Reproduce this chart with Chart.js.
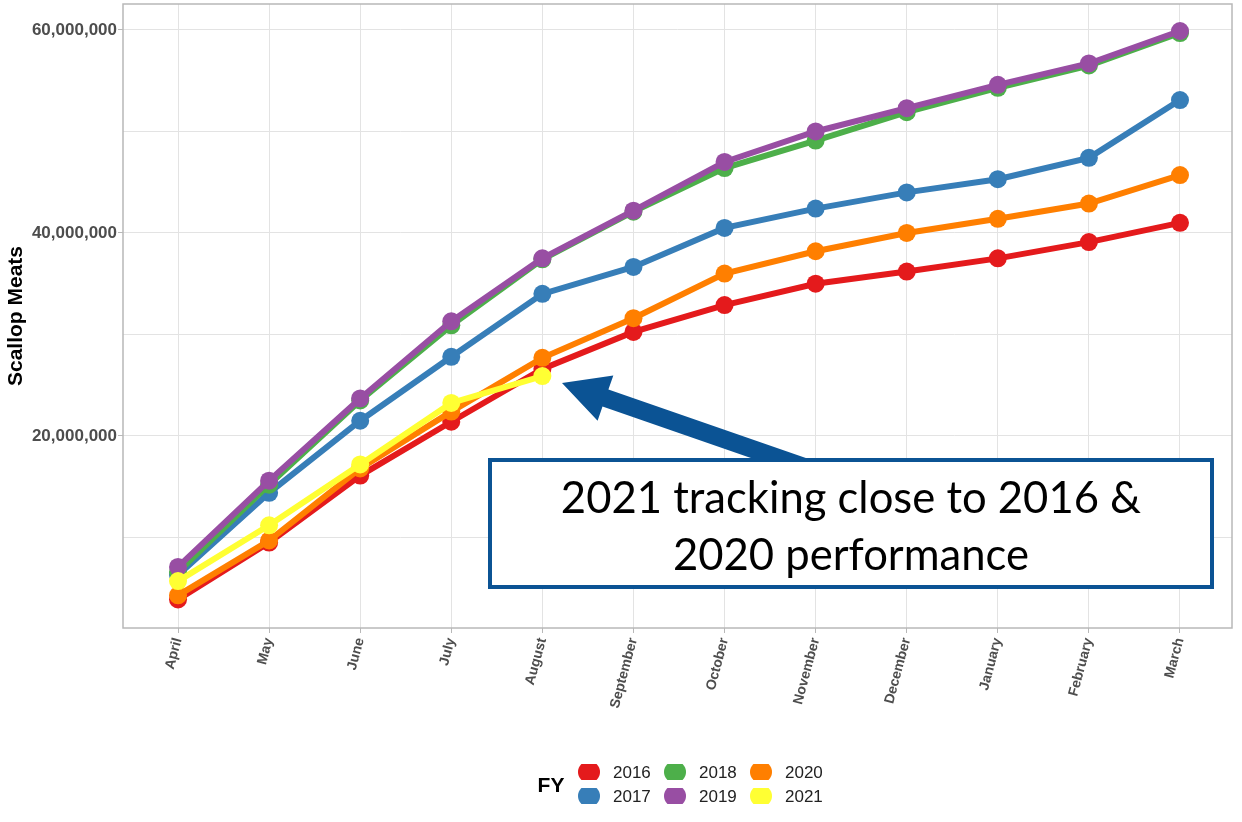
<!DOCTYPE html>
<html>
<head>
<meta charset="utf-8">
<script src="https://cdn.jsdelivr.net/npm/chart.js@4.4.0/dist/chart.umd.min.js"></script>
<style>
  body { margin: 0; background: #fff; }
</style>
</head>
<body>
<canvas id="scallopChart" width="1242" height="822"></canvas>
<script>
// months of the fiscal year (FY starts in April)
const months = ['April', 'May', 'June', 'July', 'August', 'September', 'October',
  'November', 'December', 'January', 'February', 'March'];
const fyLabels = ['2016', '2017', '2018', '2019', '2020', '2021'];

// cumulative scallop meats, lbs
const fy2016 = [3.9e6, 9.5e6, 16.1e6, 21.4e6, 26.6e6, 30.25e6, 32.9e6, 35.0e6, 36.2e6, 37.5e6, 39.1e6, 41.0e6];
const fy2017 = [6.3e6, 14.4e6, 21.5e6, 27.8e6, 34.0e6, 36.65e6, 40.5e6, 42.4e6, 44.0e6, 45.3e6, 47.4e6, 53.1e6];
const fy2018 = [6.6e6, 15.2e6, 23.5e6, 30.9e6, 37.4e6, 42.1e6, 46.4e6, 49.1e6, 51.9e6, 54.3e6, 56.5e6, 59.7e6];
const fy2019 = [7.1e6, 15.6e6, 23.7e6, 31.3e6, 37.5e6, 42.2e6, 47.0e6, 50.0e6, 52.3e6, 54.6e6, 56.7e6, 59.9e6];
const fy2020 = [4.3e6, 9.7e6, 16.8e6, 22.4e6, 27.7e6, 31.6e6, 36.0e6, 38.2e6, 40.0e6, 41.4e6, 42.9e6, 45.7e6];
const fy2021 = [5.7e6, 11.2e6, 17.2e6, 23.25e6, 25.9e6, null, null, null, null, null, null, null];

// gridlines every 10M, labels only on these
const yGrid = [10000000, 20000000, 30000000, 40000000, 50000000, 60000000];
const yTickLabels = [20000000, 40000000, 60000000];

const seriesValues = [fy2016, fy2017, fy2018, fy2019, fy2020, fy2021];
const colors = ['#E41A1C', '#377EB8', '#4DAF4A', '#984EA3', '#FF7F00', '#FFFF33'];

const datasets = seriesValues.map((vals, i) => ({
  label: fyLabels[i],
  data: vals.map((v, j) => ({ x: j, y: v })),
  borderColor: colors[i],
  backgroundColor: colors[i],
  pointBackgroundColor: colors[i],
  borderWidth: 6,
  pointRadius: 9,
  pointBorderWidth: 0,
  pointHoverRadius: 9,
  tension: 0,
  spanGaps: false,
  order: seriesValues.length - 1 - i  // later years drawn on top
}));

// frame around plot area
const frame = {
  id: 'frame',
  beforeDatasetsDraw(chart) {
    const { ctx, chartArea: a } = chart;
    ctx.save();
    ctx.strokeStyle = '#b8b8b8';
    ctx.lineWidth = 1.5;
    ctx.strokeRect(a.left, a.top, a.right - a.left, a.bottom - a.top);
    ctx.restore();
  }
};

// callout box + arrow pointing at the 2021 August point
const callout = {
  id: 'callout',
  afterDraw(chart) {
    const ctx = chart.ctx;
    const blue = '#0b5394';
    ctx.save();

    // arrow
    const tip = { x: 562, y: 383 };
    const dx = 228, dy = 79, len = Math.hypot(dx, dy);
    const ux = dx / len, uy = dy / len, nx = -uy, ny = ux;
    const headLen = 46, headW = 24, shaftW = 9, tailLen = 290;
    const bx = tip.x + ux * headLen, by = tip.y + uy * headLen;
    const tx = tip.x + ux * tailLen, ty = tip.y + uy * tailLen;
    ctx.fillStyle = blue;
    ctx.beginPath();
    ctx.moveTo(tip.x, tip.y);
    ctx.lineTo(bx + nx * headW, by + ny * headW);
    ctx.lineTo(bx + nx * shaftW, by + ny * shaftW);
    ctx.lineTo(tx + nx * shaftW, ty + ny * shaftW);
    ctx.lineTo(tx - nx * shaftW, ty - ny * shaftW);
    ctx.lineTo(bx - nx * shaftW, by - ny * shaftW);
    ctx.lineTo(bx - nx * headW, by - ny * headW);
    ctx.closePath();
    ctx.fill();

    // box
    ctx.fillStyle = '#fff';
    ctx.fillRect(490, 460, 722, 127);
    ctx.strokeStyle = blue;
    ctx.lineWidth = 4;
    ctx.strokeRect(490, 460, 722, 127);

    // text, sized so first line spans ~580px
    const line1 = '2021 tracking close to 2016 &';
    const line2 = '2020 performance';
    ctx.font = '40px Lato';
    const w = ctx.measureText(line1).width;
    const size = Math.min(46, 40 * 580 / w);
    ctx.font = size.toFixed(1) + 'px Lato';
    ctx.fillStyle = '#000';
    ctx.textAlign = 'center';
    ctx.textBaseline = 'alphabetic';
    ctx.fillText(line1, 851, 513);
    ctx.fillText(line2, 851, 570);
    ctx.restore();
  }
};

// legend: "FY" title then 3 columns x 2 rows
const fyLegend = {
  id: 'fyLegend',
  afterDraw(chart) {
    const ctx = chart.ctx;
    ctx.save();
    ctx.fillStyle = '#000';
    ctx.font = 'bold 21px "Liberation Sans", Arial, sans-serif';
    ctx.textAlign = 'center';
    ctx.textBaseline = 'middle';
    ctx.fillText('FY', 551, 786);

    ctx.font = '17px "Liberation Sans", Arial, sans-serif';
    ctx.textAlign = 'left';
    chart.data.datasets.forEach((ds, i) => {
      const col = Math.floor(i / 2), row = i % 2;
      const cx = 589 + col * 86, cy = 772 + row * 24;
      ctx.save();
      ctx.beginPath();
      ctx.rect(cx - 12, cy - 8, 24, 16);
      ctx.clip();
      ctx.beginPath();
      ctx.arc(cx, cy, 11, 0, Math.PI * 2);
      ctx.fillStyle = ds.backgroundColor;
      ctx.fill();
      ctx.restore();
      ctx.fillStyle = '#222';
      ctx.fillText(ds.label, cx + 24, cy + 1);
    });
    ctx.restore();
  }
};

const ctx = document.getElementById('scallopChart').getContext('2d');

new Chart(ctx, {
  type: 'line',
  data: { datasets: datasets },
  options: {
    responsive: false,
    animation: false,
    layout: { autoPadding: false, padding: { top: 4, right: 10, left: 0, bottom: 0 } },
    plugins: {
      legend: { display: false },
      tooltip: { enabled: false }
    },
    scales: {
      x: {
        type: 'linear',
        min: -0.604,
        max: 11.571,
        afterFit(scale) { scale.height = 194; },
        afterBuildTicks(scale) {
          scale.ticks = months.map((m, i) => ({ value: i }));
        },
        ticks: {
          autoSkip: false,
          minRotation: 75,
          maxRotation: 75,
          padding: 3,
          color: '#4d4d4d',
          font: { family: '"Liberation Sans", Arial, sans-serif', size: 14, weight: 'bold' },
          callback: v => months[v]
        },
        grid: {
          color: '#e3e3e3',
          lineWidth: 1,
          tickLength: 5,
          tickColor: '#b8b8b8'
        },
        border: { display: false }
      },
      y: {
        type: 'linear',
        min: 1080000,
        max: 62560000,
        afterFit(scale) {
          scale.width = 123;
          scale.paddingTop = 0;
          scale.paddingBottom = 0;
        },
        afterBuildTicks(scale) {
          scale.ticks = yGrid.map(v => ({ value: v }));
        },
        ticks: {
          padding: 1,
          color: '#4d4d4d',
          font: { family: '"Liberation Sans", Arial, sans-serif', size: 17, weight: 'bold' },
          callback: v => yTickLabels.includes(v) ? v.toLocaleString('en-US') : ''
        },
        grid: {
          color: '#e3e3e3',
          lineWidth: 1,
          tickLength: 5,
          tickColor: c => (c.tick && yTickLabels.includes(c.tick.value)) ? '#b8b8b8' : 'rgba(0,0,0,0)'
        },
        border: { display: false },
        title: {
          display: true,
          text: 'Scallop Meats',
          color: '#000',
          padding: { top: 4, bottom: 0 },
          font: { family: '"Liberation Sans", Arial, sans-serif', size: 21, weight: 'bold' }
        }
      }
    }
  },
  plugins: [frame, callout, fyLegend]
});
</script>
</body>
</html>
